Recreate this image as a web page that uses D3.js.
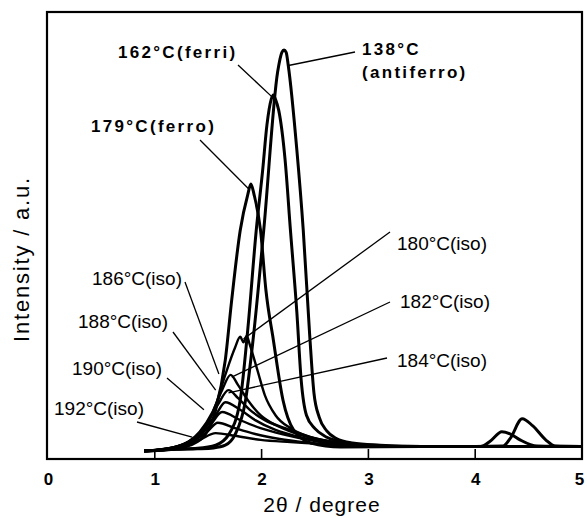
<!DOCTYPE html>
<html>
<head>
<meta charset="utf-8">
<script src="https://cdn.jsdelivr.net/npm/d3@7"></script>
<style>
  body { margin: 0; background: #fff; }
  text { font-family: "Liberation Sans", Arial, Helvetica, sans-serif; fill: #000; }
</style>
</head>
<body>
<div id="chart"></div>
<script>
// x ticks
var xTicks = [0, 1, 2, 3, 4, 5];

// curves: [2theta, intensity (a.u.)]
var c138 = [[0.90,2.0],[1.05,2.2],[1.20,2.4],[1.40,2.5],[1.55,2.7],[1.66,3.3],[1.75,5.6],[1.85,13.4],[1.92,26.8],[2.02,51.3],[2.15,86.6],[2.19,91.0],[2.21,91.5],[2.23,91.0],[2.25,88.0],[2.33,69.2],[2.39,51.3],[2.45,28.0],[2.49,15.0],[2.54,9.5],[2.61,6.5],[2.70,4.8],[2.85,3.8],[3.11,3.3],[3.50,3.0],[4.00,3.0],[4.26,3.1],[4.33,4.9],[4.44,9.2],[4.54,7.6],[4.66,4.5],[4.75,3.1],[5.00,3.0]];
var c162 = [[0.90,2.0],[1.05,2.2],[1.20,2.4],[1.40,2.6],[1.57,3.3],[1.69,5.6],[1.80,13.4],[1.87,29.0],[1.95,51.3],[2.01,64.7],[2.05,74.8],[2.09,80.5],[2.11,81.5],[2.13,80.5],[2.16,78.1],[2.22,67.0],[2.27,51.3],[2.33,33.0],[2.37,18.0],[2.42,10.0],[2.50,7.0],[2.60,5.2],[2.72,4.2],[3.02,3.1],[3.50,3.0],[4.05,3.0],[4.14,4.2],[4.25,6.3],[4.33,5.8],[4.42,4.5],[4.58,3.1],[5.00,3.0]];
var c179 = [[0.90,2.0],[1.05,2.2],[1.20,2.5],[1.33,3.3],[1.47,5.6],[1.57,11.2],[1.66,22.3],[1.72,35.7],[1.80,51.3],[1.87,59.2],[1.90,61.6],[1.93,59.2],[1.99,51.3],[2.04,38.0],[2.11,26.8],[2.20,13.4],[2.30,6.7],[2.46,3.8],[2.74,2.9],[3.50,3.0],[5.00,3.0]];
var c180 = [[0.90,2.0],[1.10,2.3],[1.24,3.1],[1.38,4.5],[1.47,7.1],[1.57,12.3],[1.66,19.0],[1.75,25.0],[1.80,27.5],[1.83,26.3],[1.86,27.7],[1.89,25.7],[1.96,20.1],[2.03,14.5],[2.13,10.0],[2.27,7.1],[2.46,5.1],[2.74,3.8],[3.02,3.1],[3.50,3.0],[5.00,3.0]];
var c182 = [[0.90,2.0],[1.05,2.3],[1.19,2.9],[1.31,4.0],[1.42,6.3],[1.54,10.7],[1.63,15.6],[1.71,19.0],[1.78,16.7],[1.87,13.4],[1.99,10.0],[2.13,7.8],[2.31,6.0],[2.55,4.5],[2.83,3.6],[3.20,3.1],[5.00,3.0]];
var c184 = [[0.90,2.0],[1.05,2.3],[1.24,3.3],[1.38,5.1],[1.49,8.3],[1.59,12.3],[1.69,15.6],[1.78,13.8],[1.89,11.2],[2.03,8.9],[2.22,7.1],[2.46,5.1],[2.74,3.8],[3.10,3.1],[5.00,3.0]];
var c186 = [[0.90,2.0],[1.05,2.3],[1.19,2.9],[1.33,4.2],[1.45,6.7],[1.57,10.0],[1.66,12.9],[1.80,11.2],[1.94,8.9],[2.13,6.7],[2.36,5.1],[2.64,3.8],[3.00,3.1],[5.00,3.0]];
var c188 = [[0.90,2.0],[1.10,2.4],[1.28,3.6],[1.41,5.4],[1.52,7.8],[1.63,10.7],[1.80,8.9],[1.99,7.1],[2.22,5.6],[2.50,4.2],[2.78,3.3],[3.10,3.0],[5.00,3.0]];
var c190 = [[0.90,2.0],[1.10,2.4],[1.24,3.1],[1.38,4.5],[1.49,6.3],[1.59,8.3],[1.75,7.1],[1.94,5.8],[2.17,4.7],[2.46,3.8],[2.74,3.1],[3.10,3.0],[5.00,3.0]];
var c192 = [[0.90,2.0],[1.10,2.5],[1.28,3.3],[1.42,4.5],[1.57,6.0],[1.75,5.4],[1.99,4.5],[2.27,4.0],[2.55,3.6],[2.83,3.1],[3.20,3.0],[5.00,3.0]];

var thick = [c138, c162, c179];
var iso = [c180, c182, c184, c186, c188, c190, c192];

// labels: text, label position in px, leader start in px, leader end in data units
var labels = [
  {t: "162°C(ferri)", bold: true, x: 118, y: 58, l: [238, 65], p: [2.10, 81.0]},
  {t: "179°C(ferro)", bold: true, x: 91, y: 132, l: [200, 140], p: [1.88, 60.5]},
  {t: "180°C(iso)", x: 397, y: 250, l: [390, 232], p: [1.83, 27.0]},
  {t: "182°C(iso)", x: 400, y: 308, l: [390, 302], p: [1.72, 18.5]},
  {t: "184°C(iso)", x: 397, y: 367, l: [387, 358], p: [1.69, 15.0]},
  {t: "186°C(iso)", x: 92, y: 285, l: [185, 282], p: [1.60, 19.2]},
  {t: "188°C(iso)", x: 78, y: 328, l: [173, 332], p: [1.57, 15.6]},
  {t: "190°C(iso)", x: 72, y: 375, l: [167, 378], p: [1.46, 11.2]},
  {t: "192°C(iso)", x: 54, y: 415, l: [137, 422], p: [1.35, 5.1]}
];

var W = 587, H = 518;
var svg = d3.select("#chart").append("svg").attr("width", W).attr("height", H);

var x = d3.scaleLinear().domain([0, 5]).range([48, 582]);
var y = d3.scaleLinear().domain([0, 100]).range([460, 12]);

var line = d3.line()
  .x(function(d){ return x(d[0]); })
  .y(function(d){ return y(d[1]); })
  .curve(d3.curveMonotoneX);

// frame
svg.append("rect")
  .attr("x", 47).attr("y", 12).attr("width", 535).attr("height", 447)
  .attr("fill", "none").attr("stroke", "#000").attr("stroke-width", 2.2);

// bottom axis, ticks inward
var xAxis = d3.axisBottom(x).tickValues(xTicks).tickFormat(d3.format("d")).tickSize(0).tickPadding(14);
var gx = svg.append("g").attr("transform", "translate(0,459)").call(xAxis);
gx.select(".domain").remove();
gx.selectAll("text")
  .style("font-size", "17px").style("font-weight", "bold")
  .style("font-family", "Liberation Sans, Arial, sans-serif");
gx.selectAll(".tick").filter(function(d){ return d === 5; })
  .select("text").attr("dx", -3);
svg.selectAll(".tk").data(xTicks.slice(1, 5)).enter().append("line")
  .attr("x1", function(d){ return x(d); }).attr("x2", function(d){ return x(d); })
  .attr("y1", 459).attr("y2", 449)
  .attr("stroke", "#000").attr("stroke-width", 1.6);

// curves
svg.selectAll(".iso").data(iso).enter().append("path")
  .attr("d", line).attr("fill", "none")
  .attr("stroke", "#000").attr("stroke-width", 2.4).attr("stroke-linejoin", "round");
svg.selectAll(".thick").data(thick).enter().append("path")
  .attr("d", line).attr("fill", "none")
  .attr("stroke", "#000").attr("stroke-width", 3).attr("stroke-linejoin", "round");

// leaders and labels
labels.forEach(function(d){
  svg.append("line")
    .attr("x1", d.l[0]).attr("y1", d.l[1])
    .attr("x2", x(d.p[0])).attr("y2", y(d.p[1]))
    .attr("stroke", "#000").attr("stroke-width", 1.3);
  svg.append("text")
    .attr("x", d.x).attr("y", d.y)
    .style("font-size", d.bold ? "17px" : "19px")
    .style("font-weight", d.bold ? "bold" : "normal")
    .style("letter-spacing", d.bold ? "2.3px" : "0px")
    .text(d.t);
});

// 138 antiferro label (two lines)
svg.append("line")
  .attr("x1", 355).attr("y1", 52)
  .attr("x2", x(2.24)).attr("y2", y(88.0))
  .attr("stroke", "#000").attr("stroke-width", 1.3);
var t138 = svg.append("text")
  .style("font-size", "17px").style("font-weight", "bold").style("letter-spacing", "2.3px");
t138.append("tspan").attr("x", 362).attr("y", 55).text("138°C");
t138.append("tspan").attr("x", 362).attr("y", 78).text("(antiferro)");

// axis titles
svg.append("text")
  .attr("x", 322).attr("y", 512)
  .attr("text-anchor", "middle")
  .style("font-size", "21px").style("letter-spacing", "1px")
  .text("2θ / degree");
svg.append("text")
  .attr("transform", "translate(29,259) rotate(-90)")
  .attr("text-anchor", "middle")
  .style("font-size", "22px").style("letter-spacing", "1.8px")
  .text("Intensity / a.u.");
</script>
</body>
</html>
